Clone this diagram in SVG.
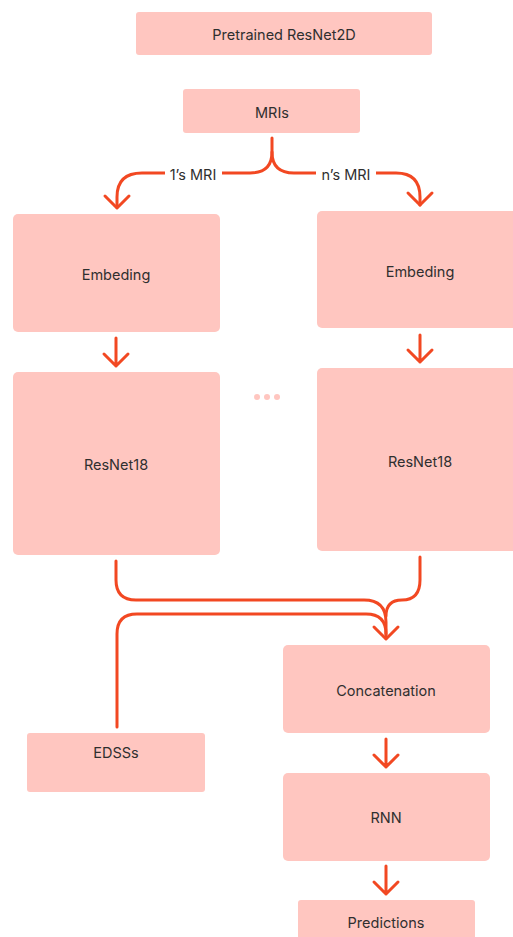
<svg xmlns="http://www.w3.org/2000/svg" width="513" height="937" viewBox="0 0 513 937">
<style>
.box{fill:#FFC6C0;}
.t{font-family:Inter,"Liberation Sans",sans-serif;font-size:14.5px;fill:#2f2f2f;text-anchor:middle;dominant-baseline:central;}
.c{fill:none;stroke:#F24822;stroke-width:3;stroke-linecap:round;stroke-linejoin:round;}
</style>
<rect width="513" height="937" fill="#ffffff"/>
<g id="pretrained"><rect class="box" x="136" y="12" width="296" height="43" rx="3"/><text class="t" x="284" y="34">Pretrained ResNet2D</text></g>
<g id="mris"><rect class="box" x="183" y="89" width="177" height="44" rx="3"/><text class="t" x="272" y="112">MRIs</text></g>
<g id="embed1"><rect class="box" x="13" y="214" width="207" height="118" rx="5"/><text class="t" x="116" y="274">Embeding</text></g>
<g id="embedn"><rect class="box" x="317" y="211" width="200" height="117" rx="5"/><text class="t" x="420" y="271">Embeding</text></g>
<g id="resnet1"><rect class="box" x="13" y="372" width="207" height="183" rx="5"/><text class="t" x="116" y="464">ResNet18</text></g>
<g id="resnetn"><rect class="box" x="317" y="368" width="200" height="183" rx="5"/><text class="t" x="420" y="461">ResNet18</text></g>
<g id="dots"><circle cx="257" cy="397" r="3" fill="#FFC6C0"/><circle cx="267" cy="397" r="3" fill="#FFC6C0"/><circle cx="277" cy="397" r="3" fill="#FFC6C0"/></g>
<g id="concat"><rect class="box" x="283" y="645" width="207" height="88" rx="5"/><text class="t" x="386" y="690">Concatenation</text></g>
<g id="edss"><rect class="box" x="27" y="733" width="178" height="59" rx="3"/><text class="t" x="116" y="752">EDSSs</text></g>
<g id="rnn"><rect class="box" x="283" y="773" width="207" height="88" rx="5"/><text class="t" x="386" y="817">RNN</text></g>
<g id="predictions"><rect class="box" x="298" y="900" width="177" height="45" rx="3"/><text class="t" x="386" y="922">Predictions</text></g>
<g id="connectors">
<path class="c" d="M272 138 V152 Q272 173 250 173 H142 Q117 173 117 197 V207"/>
<path class="c" d="M272 152 Q272 173 294 173 H396 Q420 173 420 197 V205"/>
<path class="c" d="M105 196 L117 208 L129 196"/>
<path class="c" d="M408 193 L420 205 L432 193"/>
<rect x="165" y="163" width="57" height="22" fill="#ffffff"/>
<text class="t" x="193" y="174">1’s MRI</text>
<rect x="316" y="163" width="60" height="22" fill="#ffffff"/>
<text class="t" x="346" y="174">n’s MRI</text>
<path class="c" d="M116 338 V366 M104 354 L116 366 L128 354"/>
<path class="c" d="M420 335 V362 M408 350 L420 362 L432 350"/>
<path class="c" d="M116 561 V580 Q116 600 136 600 H364 Q386 600 386 622 V638"/>
<path class="c" d="M420 557 V580 Q420 600 402 600 Q386 600 386 616"/>
<path class="c" d="M117 727 V634 Q117 614 137 614 H366 Q386 614 386 634"/>
<path class="c" d="M374 627 L386 639 L398 627"/>
<path class="c" d="M386 739 V767 M374 755 L386 767 L398 755"/>
<path class="c" d="M386 866 V894 M374 882 L386 894 L398 882"/>
</g>
</svg>
